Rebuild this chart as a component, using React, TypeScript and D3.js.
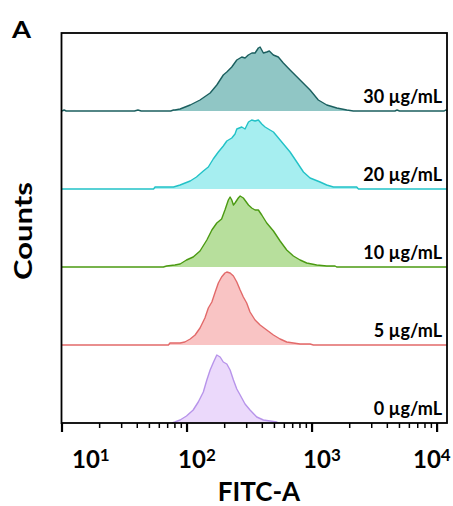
import React from "react";
import * as d3 from "d3";

// FITC-A intensity vs counts, one histogram per concentration (top to bottom)
const concentrations = ["30 µg/mL", "20 µg/mL", "10 µg/mL", "5 µg/mL", "0 µg/mL"];

const hist30: [number, number][] = [
  [10, 0], [10.4, 1], [10.8, 0], [38, 0], [40.5, 1], [43, 0], [74, 0], [78, 1], [80, 1], [88, 2],
  [106, 6], [127, 11], [153, 18], [173, 26], [195, 36], [208, 39], [228, 44], [250, 51], [274, 54],
  [291, 53], [309, 56], [330, 58], [350, 58], [372, 63], [384, 64], [408, 58], [434, 59], [455, 60],
  [490, 56], [537, 54], [589, 48], [667, 41], [802, 31], [964, 21], [1122, 11], [1312, 6], [1577, 3],
  [1896, 1], [2138, 0], [4600, 0], [4786, 1], [5000, 0], [11400, 0], [11700, 1], [12000, 0],
];
const hist20: [number, number][] = [
  [10, 0], [54, 0], [55.5, 2], [78, 2], [88, 4], [106, 8], [119, 12], [135, 18], [148, 22], [162, 30],
  [178, 37], [195, 43], [208, 48], [228, 51], [242, 55], [250, 60], [274, 62], [291, 60], [310, 67],
  [329, 69], [350, 68], [372, 69], [396, 65], [421, 62], [461, 59], [491, 57], [522, 53], [590, 45],
  [667, 37], [755, 27], [853, 17], [964, 11], [1159, 7], [1309, 4], [1482, 2], [2275, 2], [2350, 0],
  [12000, 0],
];
const hist10: [number, number][] = [
  [10, 0], [64.7, 0], [68.7, 1], [80, 2], [88, 3], [99, 7], [112, 10], [127, 16], [144, 27], [158, 37],
  [173, 44], [189, 48], [201, 57], [214, 67], [221, 70], [228, 67], [235, 62], [242, 64], [257, 69],
  [266, 71], [282, 69], [310, 62], [329, 59], [350, 57], [372, 57], [396, 52], [434, 44], [491, 36],
  [555, 26], [627, 17], [709, 11], [802, 7], [906, 4], [1089, 2], [1309, 1], [1527, 1], [1574, 0],
  [12000, 0],
];
const hist5: [number, number][] = [
  [10, 0], [71, 0], [73, 2], [88, 2], [96, 3], [106, 6], [116, 10], [127, 17], [139, 27], [148, 37],
  [158, 43], [168, 53], [178, 62], [189, 68], [201, 72], [208, 73], [221, 72], [235, 69], [250, 63],
  [266, 55], [282, 48], [300, 42], [319, 33], [350, 25], [384, 20], [434, 15], [491, 10], [555, 6],
  [627, 3], [709, 2], [802, 1], [964, 1], [1025, 0], [12000, 0],
];
const hist0: [number, number][] = [
  [76, 0], [80, 1], [88, 3], [99, 7], [112, 13], [123, 21], [135, 31], [144, 43], [153, 53], [163, 61],
  [173, 68], [184, 66], [195, 61], [208, 59], [221, 53], [235, 43], [250, 34], [266, 28], [291, 19],
  [319, 13], [361, 6], [408, 3], [461, 2], [522, 1], [540, 0],
];
const histograms = [hist30, hist20, hist10, hist5, hist0];

const fitcDomain = [10, 12000];
const decadeTicks = [10, 100, 1000, 10000];
const decadeExponents = ["1", "2", "3", "4"];
const countMax = 78;

const strokeColors = ["#1b5f5f", "#22c2c7", "#4b9a12", "#e26a6a", "#b794ea"];
const fillColors = ["#90c6c5", "#a6eef0", "#b7df9c", "#f9c4c4", "#ebd9fb"];

const W = 453;
const H = 506;
const left = 62;
const right = 447;
const top = 33;
const bottom = 423;
const font = "Lato, 'Open Sans', 'DejaVu Sans', sans-serif";

export default function App() {
  const x = d3.scaleLog().domain(fitcDomain).range([left, right]);
  const bandH = (bottom - top) / histograms.length;

  const minorTicks: number[] = [];
  for (let e = 1; e <= 4; e++) {
    for (let m = 2; m <= 9; m++) {
      const v = m * Math.pow(10, e);
      if (v < fitcDomain[1]) minorTicks.push(v);
    }
  }

  return (
    <svg
      width={W}
      height={H}
      style={{ position: "absolute", left: 0, top: 0, display: "block", background: "#fff" }}
    >
      <text x={12} y={38} fontFamily={font} fontWeight="bold" fontSize={22} textLength={19} lengthAdjust="spacingAndGlyphs" fill="#000">A</text>

      {histograms.map((data, i) => {
        const y0 = top + bandH * (i + 1);
        const y = d3.scaleLinear().domain([0, countMax]).range([y0, y0 - countMax]);
        const area = d3
          .area<[number, number]>()
          .x((d) => x(d[0]))
          .y0(y0)
          .y1((d) => y(d[1]));
        const line = d3
          .line<[number, number]>()
          .x((d) => x(d[0]))
          .y((d) => y(d[1]));
        return (
          <g key={i}>
            <path d={area(data) || ""} fill={fillColors[i]} stroke="none" />
            <path d={line(data) || ""} fill="none" stroke={strokeColors[i]} strokeWidth={1.4} strokeLinejoin="round" />
            <text
              x={442}
              y={y0 - 8}
              textAnchor="end"
              fontFamily={font}
              fontWeight="bold"
              fontSize={18}
              fill="#000"
            >
              {concentrations[i]}
            </text>
          </g>
        );
      })}

      <rect
        x={left - 0.5}
        y={top}
        width={right - left + 0.5}
        height={bottom - top}
        fill="none"
        stroke="#000"
        strokeWidth={1.8}
      />

      {minorTicks.map((v) => (
        <line key={"m" + v} x1={x(v)} x2={x(v)} y1={bottom} y2={bottom + 5} stroke="#000" strokeWidth={1.5} />
      ))}
      {decadeTicks.map((v) => (
        <line key={"M" + v} x1={x(v)} x2={x(v)} y1={bottom} y2={bottom + 9} stroke="#000" strokeWidth={2.2} />
      ))}
      {decadeTicks.map((v, i) => {
        const lx = Math.min(Math.max(x(v) - 9, 72), 413);
        return (
          <text key={"l" + v} x={lx} y={468} fontFamily={font} fontWeight="bold" fontSize={24} fill="#000">
            10
            <tspan fontSize={17} dy={-7}>{decadeExponents[i]}</tspan>
          </text>
        );
      })}

      <text x={259} y={501} textAnchor="middle" fontFamily={font} fontWeight="bold" fontSize={26} fill="#000">
        FITC-A
      </text>
      <text
        transform="translate(32,231) rotate(-90)"
        textAnchor="middle"
        fontFamily={font}
        fontWeight="bold"
        fontSize={25}
        textLength={98}
        lengthAdjust="spacingAndGlyphs"
        fill="#000"
      >
        Counts
      </text>
    </svg>
  );
}
